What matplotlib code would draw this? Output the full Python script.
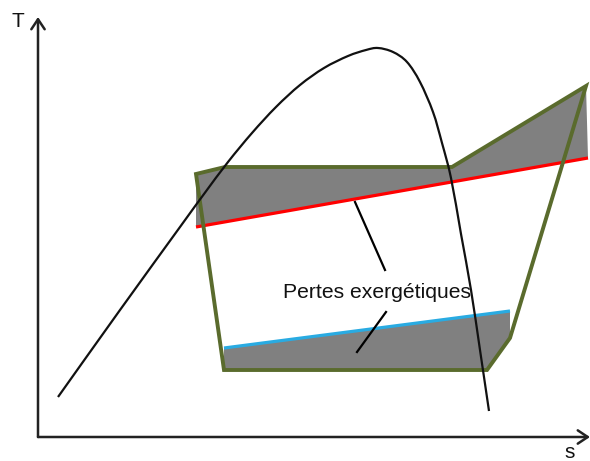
import matplotlib
matplotlib.use("Agg")
import matplotlib.pyplot as plt
from matplotlib.patches import Polygon, FancyArrowPatch, PathPatch
from matplotlib.path import Path

# Saturation dome (s, T)
dome_s = [20, 82, 142, 166, 190, 214, 238, 262, 286, 310, 328, 340,
          355, 369, 382, 395, 404, 413, 423, 433, 442, 451]
dome_T = [40, 127, 210, 243, 275, 304, 330, 352, 369, 381, 387, 389,
          385, 375, 355, 325, 294, 259, 203, 147, 87, 26]

# Cycle (closed polygon)
cycle_s = [158, 187, 414, 548, 472, 449, 186]
cycle_T = [263, 270, 270, 351, 99, 67, 67]

# Hot source line (red) and cold source line (blue)
red_s = [158, 550]
red_T = [210, 279]
blue_s = [186, 472]
blue_T = [89, 126]

# Shaded exergy-loss areas
loss_hot_s = [158, 187, 414, 548, 550, 158]
loss_hot_T = [263, 270, 270, 351, 279, 210]
loss_cold_s = [186, 472, 472, 449, 186]
loss_cold_T = [89, 126, 99, 67, 67]

# Annotation leader lines
lead1_s = [317, 347]
lead1_T = [235, 167]
lead2_s = [348, 319]
lead2_T = [125, 85]

label_text = "Pertes exergétiques"


def smooth_path(xs, ys):
    """Catmull-Rom through the points, expressed as cubic Bezier segments."""
    pts = list(zip(xs, ys))
    verts = [pts[0]]
    codes = [Path.MOVETO]
    n = len(pts)
    for i in range(n - 1):
        p0 = pts[i - 1] if i > 0 else pts[i]
        p1 = pts[i]
        p2 = pts[i + 1]
        p3 = pts[i + 2] if i + 2 < n else pts[i + 1]
        c1 = (p1[0] + (p2[0] - p0[0]) / 6.0, p1[1] + (p2[1] - p0[1]) / 6.0)
        c2 = (p2[0] - (p3[0] - p1[0]) / 6.0, p2[1] - (p3[1] - p1[1]) / 6.0)
        verts += [c1, c2, p2]
        codes += [Path.CURVE4] * 3
    return Path(verts, codes)


fig = plt.figure(figsize=(5.9, 4.61), dpi=100)
ax = fig.add_axes([0, 0, 1, 1])
ax.set_xlim(-38, 552)
ax.set_ylim(-24, 437)
ax.axis("off")

gray = "#808080"
green = "#5a6b2d"

ax.add_patch(Polygon(list(zip(loss_hot_s, loss_hot_T)), closed=True,
                     facecolor=gray, edgecolor="none", zorder=1))
ax.add_patch(Polygon(list(zip(loss_cold_s, loss_cold_T)), closed=True,
                     facecolor=gray, edgecolor="none", zorder=1))

ax.plot(red_s, red_T, color="#ff0000", lw=2.3, zorder=2, solid_capstyle="butt")
ax.plot(blue_s, blue_T, color="#29abe2", lw=2.3, zorder=2, solid_capstyle="butt")

ax.add_patch(Polygon(list(zip(cycle_s, cycle_T)), closed=True,
                     facecolor="none", edgecolor=green, lw=2.8,
                     joinstyle="miter", zorder=3))

ax.add_patch(PathPatch(smooth_path(dome_s, dome_T), facecolor="none",
                       edgecolor="#111111", lw=1.6, zorder=4))

ax.plot(lead1_s, lead1_T, color="black", lw=1.6, zorder=4)
ax.plot(lead2_s, lead2_T, color="black", lw=1.6, zorder=4)

ax.text(339, 139, label_text, ha="center", va="baseline",
        fontsize=15.2, family="Liberation Sans", color="#111111", zorder=5)

# Axes arrows
ax.add_patch(FancyArrowPatch((0, 0), (0, 420), arrowstyle="->,head_length=6,head_width=4",
                             lw=1.8, color="#222222", mutation_scale=1.2, zorder=5,
                             shrinkA=0, shrinkB=0))
ax.add_patch(FancyArrowPatch((0, 0), (552, 0), arrowstyle="->,head_length=6,head_width=4",
                             lw=1.8, color="#222222", mutation_scale=1.2, zorder=5,
                             shrinkA=0, shrinkB=0))

ax.text(-20, 415, "T", ha="center", va="center", fontsize=15,
        family="Liberation Sans", color="#111111")
ax.text(532, -21, "s", ha="center", va="baseline", fontsize=15,
        family="Liberation Sans", color="#111111")

fig.savefig("out.png", dpi=100)
